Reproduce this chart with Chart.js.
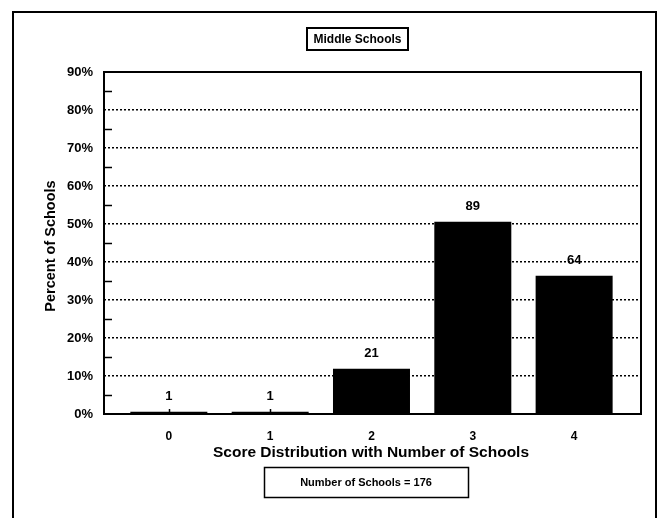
<!DOCTYPE html>
<html>
<head>
<meta charset="utf-8">
<script src="https://cdn.jsdelivr.net/npm/chart.js@4/dist/chart.umd.min.js"></script>
<style>
  html, body { margin: 0; padding: 0; background: #fff; }
  #wrap { width: 662px; height: 518px; }
</style>
</head>
<body>
<div id="wrap"><canvas id="chart" width="662" height="518"></canvas></div>
<script>
const scores = [0, 1, 2, 3, 4]
const percents = [0.6, 0.6, 11.9, 50.6, 36.4]
const counts = [1, 1, 21, 89, 64]
const yTicks = [0, 10, 20, 30, 40, 50, 60, 70, 80, 90]
const totalLabel = 'Number of Schools = 176'

const FONT = '"Liberation Sans", Arial, sans-serif'

// frame, titles, boxes, minor ticks and count labels
const decor = {
  id: 'decor',
  afterDraw(chart) {
    const ctx = chart.ctx
    const a = chart.chartArea
    const x = chart.scales.x
    const y = chart.scales.y
    ctx.save()
    ctx.strokeStyle = '#000'
    ctx.fillStyle = '#000'

    // outer page frame
    ctx.lineWidth = 2
    ctx.beginPath()
    ctx.moveTo(13, 518)
    ctx.lineTo(13, 12)
    ctx.lineTo(656, 12)
    ctx.lineTo(656, 518)
    ctx.stroke()

    // plot frame
    ctx.lineWidth = 2
    ctx.strokeRect(a.left, a.top, a.right - a.left, a.bottom - a.top)

    // minor ticks on y axis (5, 15, ...)
    ctx.lineWidth = 1.5
    for (let v = 5; v < 90; v += 10) {
      const py = Math.round(y.getPixelForValue(v)) + 0.5
      ctx.beginPath()
      ctx.moveTo(a.left, py)
      ctx.lineTo(a.left + 8, py)
      ctx.stroke()
    }
    // small ticks at category centres
    scores.forEach(s => {
      const px = Math.round(x.getPixelForValue(s)) + 0.5
      ctx.beginPath()
      ctx.moveTo(px, a.bottom)
      ctx.lineTo(px, a.bottom - 5)
      ctx.stroke()
    })

    // count labels above bars
    ctx.font = 'bold 13px ' + FONT
    ctx.textAlign = 'center'
    ctx.textBaseline = 'bottom'
    chart.getDatasetMeta(0).data.forEach((bar, i) => {
      ctx.fillText(String(counts[i]), bar.x, bar.y - 9)
    })

    // y axis title
    ctx.save()
    ctx.translate(51, 246)
    ctx.rotate(-Math.PI / 2)
    ctx.font = 'bold 14.5px ' + FONT
    ctx.textBaseline = 'middle'
    ctx.fillText('Percent of Schools', 0, 0)
    ctx.restore()

    // x axis title
    ctx.font = 'bold 15.5px ' + FONT
    ctx.textBaseline = 'middle'
    ctx.fillText('Score Distribution with Number of Schools', 371, 453)

    // chart title in a box
    ctx.font = 'bold 12px ' + FONT
    ctx.lineWidth = 2
    ctx.strokeRect(307, 28, 101, 22)
    ctx.fillText('Middle Schools', 357.5, 39.5)

    // total box
    ctx.font = 'bold 11px ' + FONT
    ctx.lineWidth = 1.5
    ctx.strokeRect(264.5, 467.5, 204, 30)
    ctx.fillText(totalLabel, 366, 483)

    ctx.restore()
  }
}

new Chart(document.getElementById('chart'), {
  type: 'bar',
  data: {
    datasets: [{
      data: scores.map((s, i) => ({ x: s, y: percents[i] })),
      backgroundColor: '#000',
      borderWidth: 0,
      barPercentage: 0.95,
      categoryPercentage: 0.8
    }]
  },
  options: {
    responsive: false,
    animation: false,
    layout: { padding: { top: 72, right: 21, bottom: 64, left: 0 } },
    plugins: { legend: { display: false }, tooltip: { enabled: false }, title: { display: false } },
    scales: {
      x: {
        type: 'linear',
        offset: false,
        min: -0.64,
        max: 4.66,
        afterBuildTicks: s => { s.ticks = scores.map(v => ({ value: v })) },
        afterFit: s => { s.height = 40 },
        grid: { display: false, drawTicks: false },
        border: { display: false },
        ticks: {
          padding: 15,
          color: '#000',
          font: { family: FONT, size: 12, weight: 'bold' },
          callback: v => String(v)
        }
      },
      y: {
        min: 0,
        max: 90,
        afterBuildTicks: s => { s.ticks = yTicks.map(v => ({ value: v })) },
        afterFit: s => { s.width = 104 },
        grid: {
          drawTicks: false,
          lineWidth: 1.5,
          color: c => (c.tick && (c.tick.value === 0 || c.tick.value === 90)) ? 'rgba(0,0,0,0)' : '#000'
        },
        border: { display: false, dash: [2, 2] },
        ticks: {
          padding: 11,
          color: '#000',
          font: { family: FONT, size: 13, weight: 'bold' },
          callback: v => v + '%'
        }
      }
    }
  },
  plugins: [decor]
})
</script>
</body>
</html>
